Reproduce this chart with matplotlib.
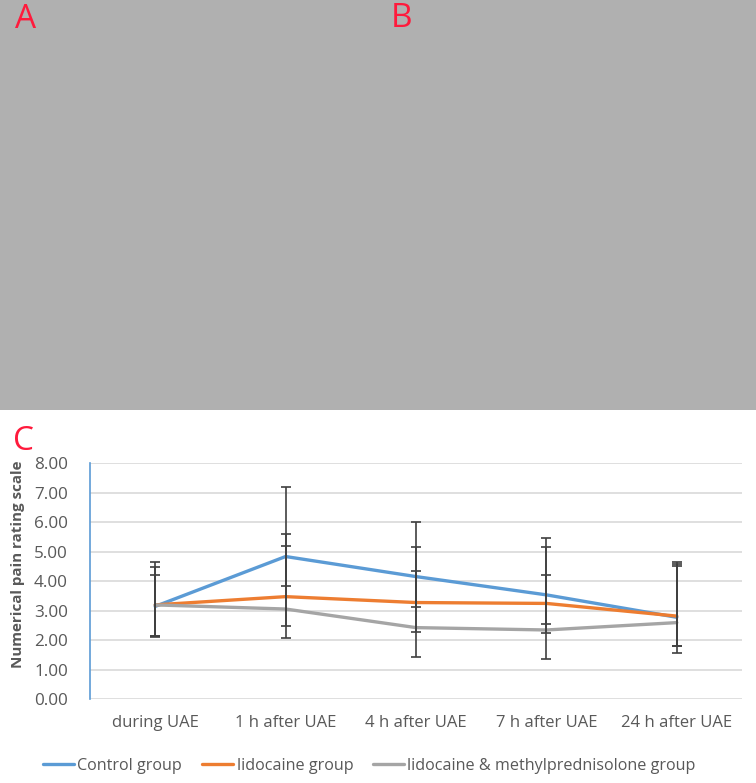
import numpy as np
import matplotlib.pyplot as plt

plt.rcParams['font.family'] = ['Open Sans', 'DejaVu Sans']

# chart data (numerical pain rating scale)
timepoints = ["during UAE", "1 h after UAE", "4 h after UAE", "7 h after UAE", "24 h after UAE"]
control = [3.15, 4.84, 4.16, 3.54, 2.78]
lidocaine = [3.20, 3.48, 3.28, 3.25, 2.82]
lido_mp = [3.20, 3.06, 2.43, 2.35, 2.60]

control_hi = [4.65, 7.20, 6.02, 5.48, 4.64]
control_lo = [2.15, 2.48, 2.29, 2.55, 1.80]
lidocaine_hi = [4.50, 5.60, 5.17, 5.17, 4.59]
lidocaine_lo = [2.15, 3.85, 3.14, 2.26, 1.82]
lido_mp_hi = [4.23, 5.18, 4.36, 4.21, 4.52]
lido_mp_lo = [2.12, 2.08, 1.44, 1.37, 1.58]

series_names = ["Control group", "lidocaine group", "lidocaine & methylprednisolone group"]
colors = ["#5b9bd5", "#ed7d31", "#a5a5a5"]

W, H = 756, 783
fig = plt.figure(figsize=(W / 100, H / 100), dpi=100)
fig.patch.set_facecolor("white")

def fx(px):
    return px / W

def fy(py):
    return 1 - py / H

# placeholder panels for the angiography images
axA = fig.add_axes([0, fy(410), fx(376), 410 / H])
axB = fig.add_axes([fx(376), fy(410), fx(380), 410 / H])
for a in (axA, axB):
    a.set_facecolor("#b0b0b0")
    a.set_xticks([])
    a.set_yticks([])
    for s in a.spines.values():
        s.set_visible(False)

red = "#ff1a3c"
fig.text(fx(15), fy(28), "A", color=red, fontsize=24, va="baseline")
fig.text(fx(391), fy(27), "B", color=red, fontsize=24, va="baseline")
fig.text(fx(13), fy(450), "C", color=red, fontsize=24, va="baseline")

# line chart
ax = fig.add_axes([fx(90), fy(699.3), fx(652), 236 / H])
x = np.arange(len(timepoints))

ax.set_ylim(0, 8)
ax.set_xlim(-0.5, len(timepoints) - 0.5)
ax.set_yticks(np.arange(0, 9, 1))
ax.set_yticklabels([f"{v:.2f}" for v in range(9)])
ax.set_xticks(x)
ax.set_xticklabels(timepoints)
ax.tick_params(axis="both", length=0, labelcolor="#595959")
ax.tick_params(axis="x", pad=11, labelsize=12)
ax.tick_params(axis="y", pad=16, labelsize=12.3)
ax.grid(axis="y", color="#d9d9d9", lw=1.2)
ax.set_axisbelow(True)
for s in ["top", "right", "bottom"]:
    ax.spines[s].set_visible(False)
ax.spines["left"].set_color("#5b9bd5")
ax.spines["left"].set_linewidth(1.2)

ax.set_ylabel("Numerical pain rating scale", fontsize=10.9, fontweight="bold",
              color="#595959")
ax.yaxis.set_label_coords(-65 / 652, (699.3 - 564) / 236)

all_vals = [control, lidocaine, lido_mp]
all_hi = [control_hi, lidocaine_hi, lido_mp_hi]
all_lo = [control_lo, lidocaine_lo, lido_mp_lo]

for vals, hi, lo, c, name in zip(all_vals, all_hi, all_lo, colors, series_names):
    ax.plot(x, vals, color=c, lw=2.4, label=name, zorder=3, solid_capstyle="round")

for hi, lo in zip(all_hi, all_lo):
    ax.vlines(x, lo, hi, color="#404040", lw=1.2, zorder=4)
    ax.plot(x, hi, ls="none", marker="_", ms=7, mew=1.2, color="#404040", zorder=4)
    ax.plot(x, lo, ls="none", marker="_", ms=7, mew=1.2, color="#404040", zorder=4)

ax.legend(loc="center", bbox_to_anchor=((369.5 - 90) / 652, (699.3 - 766) / 236), ncol=3,
          frameon=False, fontsize=11.6, labelcolor="#595959", handlelength=1.93,
          handletextpad=0.2, columnspacing=1.24, borderpad=0)

fig.savefig("out.png", dpi=100)
